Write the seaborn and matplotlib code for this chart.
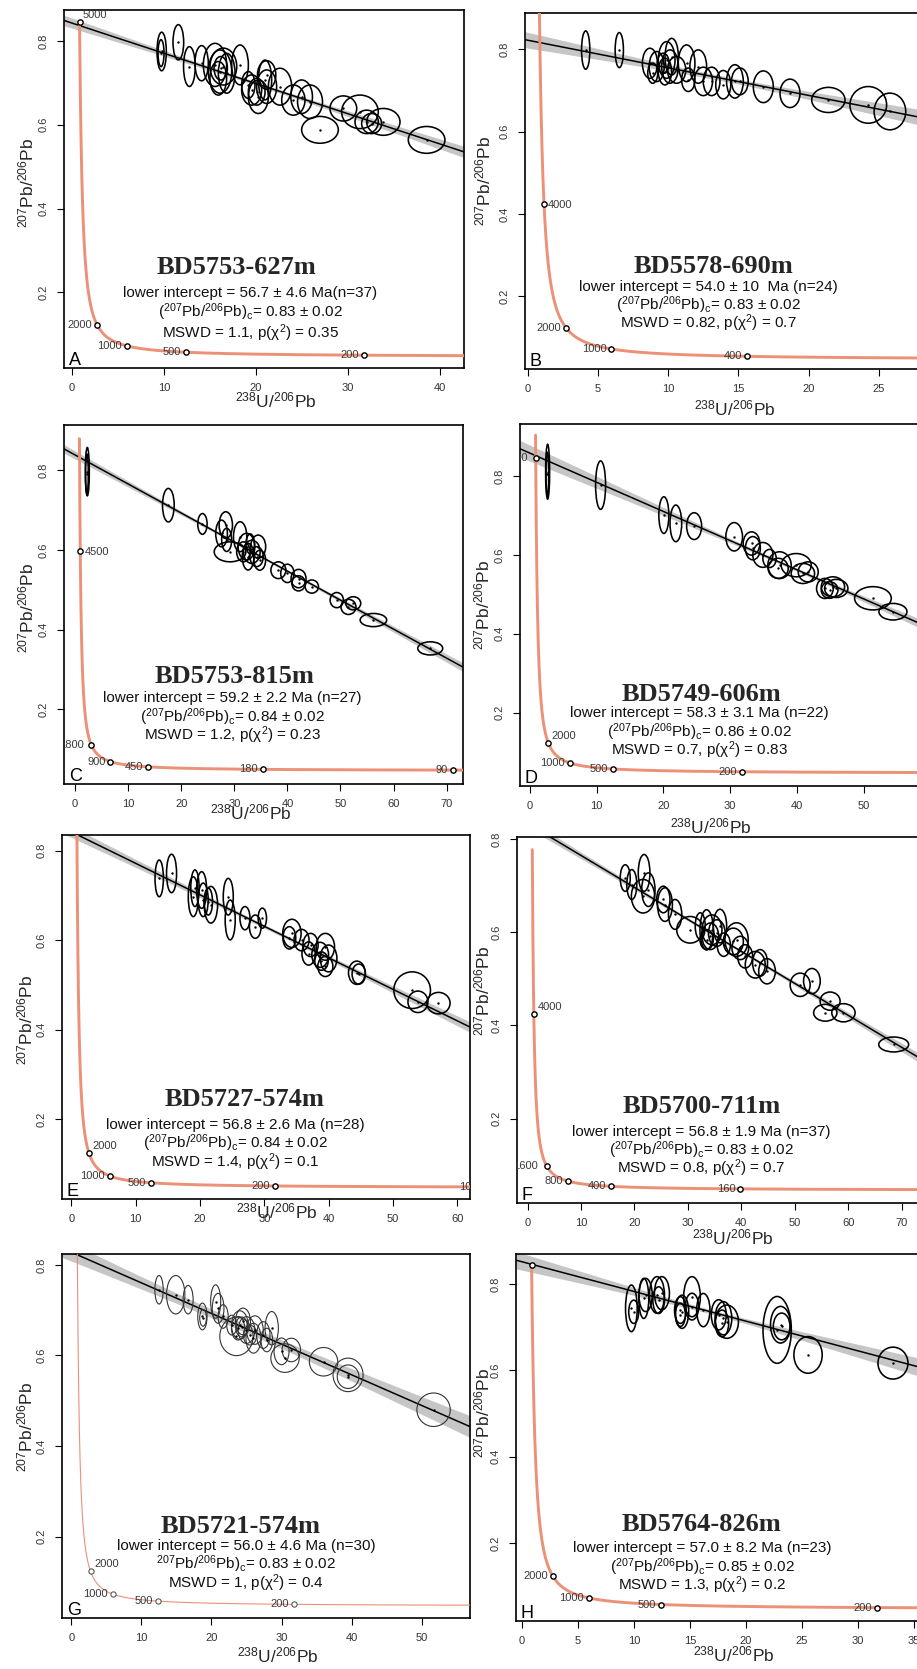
import numpy as np
import matplotlib
matplotlib.use("Agg")
import matplotlib.pyplot as plt
from matplotlib.patches import Ellipse
from matplotlib.transforms import ScaledTranslation
import seaborn as sns

# ---------------- data ----------------
PANEL_KEYS = ["A", "B", "C", "D", "E", "F", "G", "H"]

# ellipse centres (238U/206Pb, 207Pb/206Pb) and full widths / heights
A_x = [9.77, 9.70, 11.58, 12.78, 14.11, 15.56, 16.11, 16.47, 15.92, 16.83, 16.18, 18.28, 19.54, 20.09, 19.18,
       20.27, 21.17, 21.17, 20.99, 22.62, 24.07, 24.97, 25.88, 26.96, 29.50, 31.30, 32.03, 32.57, 33.84, 38.54]
A_y = [0.775, 0.771, 0.797, 0.739, 0.747, 0.743, 0.727, 0.739, 0.711, 0.723, 0.735, 0.743, 0.683, 0.679, 0.695,
       0.667, 0.719, 0.691, 0.707, 0.691, 0.659, 0.667, 0.655, 0.588, 0.639, 0.631, 0.607, 0.603, 0.607, 0.564]
A_w = [1.01, 0.65, 1.16, 1.27, 1.45, 2.53, 2.53, 2.90, 1.81, 1.81, 1.45, 1.81, 2.17, 1.81, 1.45,
       2.17, 1.99, 2.17, 1.45, 2.53, 2.53, 2.35, 2.71, 3.98, 2.90, 3.98, 2.53, 2.17, 3.62, 3.98]
A_h = [0.092, 0.064, 0.084, 0.095, 0.084, 0.103, 0.103, 0.088, 0.080, 0.095, 0.056, 0.095, 0.072, 0.064, 0.064,
       0.080, 0.068, 0.080, 0.095, 0.088, 0.072, 0.080, 0.080, 0.064, 0.060, 0.080, 0.056, 0.048, 0.064, 0.064]

B_x = [4.13, 6.52, 8.70, 9.18, 9.89, 10.13, 10.25, 9.77, 10.60, 11.31, 12.14, 12.50, 13.09, 13.92, 14.75,
       15.10, 16.77, 18.67, 21.40, 24.24, 25.78, 11.43, 9.65, 8.90]
B_y = [0.798, 0.798, 0.766, 0.758, 0.774, 0.758, 0.782, 0.746, 0.750, 0.766, 0.758, 0.722, 0.722, 0.714, 0.722,
       0.722, 0.709, 0.693, 0.677, 0.665, 0.649, 0.726, 0.766, 0.742]
B_w = [0.59, 0.59, 1.07, 1.07, 1.19, 1.19, 0.95, 0.95, 1.30, 1.19, 1.19, 1.30, 1.19, 1.07, 1.19,
       1.19, 1.42, 1.42, 2.37, 2.61, 2.25, 0.95, 0.83, 0.71]
B_h = [0.093, 0.085, 0.073, 0.073, 0.089, 0.081, 0.089, 0.065, 0.065, 0.089, 0.081, 0.069, 0.069, 0.069, 0.081,
       0.065, 0.077, 0.069, 0.061, 0.089, 0.089, 0.057, 0.049, 0.049]

C_x = [2.32, 2.25, 17.58, 24.00, 28.40, 27.60, 28.56, 29.20, 31.10, 32.30, 33.30, 31.70, 34.50, 34.20, 34.80,
       32.60, 38.30, 40.00, 42.10, 42.10, 44.60, 49.30, 51.50, 52.40, 56.20, 66.90, 33.00]
C_y = [0.796, 0.790, 0.712, 0.665, 0.662, 0.641, 0.625, 0.595, 0.633, 0.608, 0.595, 0.595, 0.608, 0.583, 0.574,
       0.583, 0.549, 0.541, 0.528, 0.516, 0.508, 0.474, 0.457, 0.466, 0.424, 0.353, 0.615]
C_w = [0.75, 0.50, 2.20, 1.76, 2.51, 2.20, 1.88, 5.96, 2.51, 3.14, 3.14, 2.51, 2.82, 2.51, 2.20,
       2.20, 2.82, 2.51, 2.82, 2.51, 2.51, 2.51, 2.82, 2.82, 5.00, 4.70, 1.57]
C_h = [0.121, 0.100, 0.084, 0.052, 0.067, 0.067, 0.058, 0.050, 0.075, 0.067, 0.058, 0.050, 0.058, 0.050, 0.050,
       0.067, 0.042, 0.046, 0.046, 0.038, 0.033, 0.038, 0.038, 0.033, 0.033, 0.033, 0.050]

D_x = [2.64, 2.60, 10.58, 20.06, 21.86, 24.60, 30.60, 33.20, 33.40, 34.90, 37.40, 37.20, 39.90, 40.90, 41.70,
       44.20, 45.40, 45.90, 44.90, 51.40, 54.40, 35.90]
D_y = [0.811, 0.805, 0.777, 0.701, 0.680, 0.673, 0.646, 0.629, 0.617, 0.600, 0.574, 0.566, 0.574, 0.553, 0.557,
       0.515, 0.519, 0.515, 0.511, 0.490, 0.456, 0.591]
D_w = [0.60, 0.40, 1.50, 1.50, 1.75, 2.25, 2.50, 2.50, 2.25, 3.00, 3.50, 3.00, 4.50, 3.50, 3.00,
       2.50, 3.50, 3.50, 2.50, 5.50, 4.20, 2.00]
D_h = [0.139, 0.110, 0.123, 0.093, 0.093, 0.068, 0.072, 0.059, 0.059, 0.063, 0.068, 0.051, 0.059, 0.051, 0.051,
       0.051, 0.051, 0.046, 0.042, 0.059, 0.042, 0.046]

E_x = [13.66, 15.58, 19.22, 18.96, 20.26, 20.50, 21.70, 21.30, 24.40, 24.70, 27.00, 28.60, 29.70, 34.30, 35.80,
       37.20, 36.90, 38.70, 39.50, 40.00, 39.50, 38.90, 44.40, 44.70, 53.00, 53.90, 57.10, 33.90]
E_y = [0.738, 0.749, 0.716, 0.697, 0.712, 0.690, 0.679, 0.686, 0.697, 0.645, 0.649, 0.630, 0.649, 0.615, 0.600,
       0.589, 0.570, 0.567, 0.585, 0.559, 0.541, 0.553, 0.527, 0.524, 0.488, 0.462, 0.459, 0.605]
E_w = [1.30, 1.56, 1.30, 1.56, 1.56, 1.56, 2.08, 1.30, 1.56, 1.56, 1.56, 1.82, 1.30, 2.86, 2.34,
       2.34, 2.08, 2.60, 2.86, 2.60, 2.34, 2.08, 2.60, 2.08, 5.70, 3.10, 3.60, 2.00]
E_h = [0.082, 0.086, 0.082, 0.089, 0.082, 0.075, 0.082, 0.060, 0.082, 0.089, 0.052, 0.052, 0.045, 0.063, 0.048,
       0.052, 0.052, 0.056, 0.060, 0.060, 0.045, 0.041, 0.052, 0.045, 0.082, 0.048, 0.048, 0.050]

F_x = [18.27, 19.50, 21.80, 21.60, 22.60, 25.40, 25.70, 27.60, 30.40, 33.50, 34.50, 34.20, 35.40, 33.50, 36.00,
       38.50, 39.10, 39.80, 40.70, 42.60, 43.50, 44.80, 51.00, 53.20, 56.60, 55.70, 59.10, 68.50, 32.30, 36.70]
F_y = [0.716, 0.702, 0.727, 0.677, 0.691, 0.670, 0.659, 0.638, 0.605, 0.605, 0.605, 0.591, 0.598, 0.584, 0.613,
       0.580, 0.584, 0.566, 0.548, 0.530, 0.534, 0.516, 0.487, 0.495, 0.452, 0.427, 0.427, 0.359, 0.613, 0.573]
F_w = [1.87, 1.87, 2.18, 4.36, 2.49, 2.49, 2.80, 2.49, 4.99, 2.49, 3.74, 3.12, 3.12, 2.49, 2.49,
       3.74, 4.36, 3.12, 2.80, 3.74, 2.80, 3.12, 3.74, 3.12, 3.74, 4.36, 4.36, 5.60, 1.87, 2.49]
F_h = [0.057, 0.064, 0.079, 0.072, 0.072, 0.057, 0.072, 0.064, 0.057, 0.086, 0.064, 0.057, 0.057, 0.043, 0.072,
       0.057, 0.072, 0.050, 0.050, 0.057, 0.057, 0.054, 0.050, 0.054, 0.039, 0.036, 0.039, 0.032, 0.057, 0.050]

G_x = [12.52, 14.90, 16.67, 18.71, 18.80, 20.60, 20.95, 21.67, 23.57, 24.05, 24.50, 23.80, 25.00, 26.20, 26.00,
       27.40, 28.60, 27.90, 30.50, 30.00, 31.40, 36.00, 39.50, 39.50, 51.70, 24.30, 22.90, 25.50]
G_y = [0.745, 0.734, 0.723, 0.686, 0.683, 0.719, 0.704, 0.686, 0.642, 0.667, 0.675, 0.660, 0.656, 0.656, 0.638,
       0.645, 0.660, 0.634, 0.594, 0.609, 0.612, 0.586, 0.557, 0.553, 0.480, 0.663, 0.667, 0.645]
G_w = [1.19, 2.62, 1.43, 1.33, 0.95, 1.43, 1.67, 1.43, 4.76, 2.38, 2.14, 1.90, 2.38, 2.38, 2.14,
       1.90, 1.90, 1.67, 4.05, 2.14, 2.62, 4.05, 4.29, 3.10, 4.76, 1.67, 1.43, 1.90]
G_h = [0.063, 0.085, 0.063, 0.059, 0.037, 0.074, 0.066, 0.052, 0.085, 0.063, 0.059, 0.052, 0.059, 0.063, 0.066,
       0.059, 0.074, 0.052, 0.063, 0.059, 0.052, 0.063, 0.074, 0.052, 0.074, 0.044, 0.044, 0.044]

H_x = [9.77, 11.04, 10.88, 12.06, 12.50, 12.21, 14.15, 14.30, 15.19, 15.19, 16.20, 17.58, 18.00, 18.30, 17.87,
       22.80, 23.10, 23.20, 25.56, 33.15, 9.98, 14.15]
H_y = [0.744, 0.775, 0.767, 0.775, 0.779, 0.763, 0.740, 0.736, 0.771, 0.748, 0.740, 0.729, 0.721, 0.713, 0.709,
       0.694, 0.706, 0.702, 0.636, 0.617, 0.736, 0.729]
H_w = [1.04, 1.19, 0.89, 1.34, 1.34, 1.04, 1.04, 1.19, 1.49, 1.19, 1.19, 1.34, 1.49, 2.08, 1.19,
       2.53, 1.79, 1.49, 2.53, 2.68, 0.89, 0.89]
H_h = [0.108, 0.077, 0.093, 0.085, 0.077, 0.062, 0.062, 0.077, 0.093, 0.062, 0.077, 0.070, 0.077, 0.077, 0.062,
       0.155, 0.085, 0.062, 0.085, 0.074, 0.054, 0.054]

# discordia: 207Pb/206Pb intercept at x=0 and slope
DISC_Y0 = [0.843, 0.822, 0.838, 0.858, 0.842, 0.833, 0.828, 0.852]
DISC_SLOPE = [-0.00722, -0.0067, -0.00728, -0.00739, -0.00704, -0.00686, -0.00677, -0.00688]

# concordia age markers (Ma) and their labels
AGES = {
    "A": [5000, 2000, 1000, 500, 200],
    "B": [4000, 2000, 1000, 400],
    "C": [4500, 1800, 900, 450, 180, 90],
    "D": [5000, 2000, 1000, 500, 200],
    "E": [2000, 1000, 500, 200, 100],
    "F": [4000, 1600, 800, 400, 160],
    "G": [2000, 1000, 500, 200],
    "H": [5000, 2000, 1000, 500, 200],
}
AGE_LABELS = {
    "A": ["5000", "2000", "1000", "500", "200"],
    "B": ["4000", "2000", "1000", "400"],
    "C": ["4500", "1800", "900", "450", "180", "90"],
    "D": ["5000", "2000", "1000", "500", "200"],
    "E": ["2000", "1000", "500", "200", "100"],
    "F": ["4000", "1600", "800", "400", "160"],
    "G": ["2000", "1000", "500", "200"],
    "H": ["", "2000", "1000", "500", "200"],
}

TITLES = ["BD5753-627m", "BD5578-690m", "BD5753-815m", "BD5749-606m",
          "BD5727-574m", "BD5700-711m", "BD5721-574m", "BD5764-826m"]
STAT_LINE1 = ["lower intercept = 56.7 ± 4.6 Ma(n=37)",
              "lower intercept = 54.0 ± 10  Ma (n=24)",
              "lower intercept = 59.2 ± 2.2 Ma (n=27)",
              "lower intercept = 58.3 ± 3.1 Ma (n=22)",
              "lower intercept = 56.8 ± 2.6 Ma (n=28)",
              "lower intercept = 56.8 ± 1.9 Ma (n=37)",
              "lower intercept = 56.0 ± 4.6 Ma (n=30)",
              "lower intercept = 57.0 ± 8.2 Ma (n=23)"]
PBC = ["0.83 ± 0.02", "0.83 ± 0.02", "0.84 ± 0.02", "0.86 ± 0.02",
       "0.84 ± 0.02", "0.83 ± 0.02", "0.83 ± 0.02", "0.85 ± 0.02"]
MSWD = ["1.1", "0.82", "1.2", "0.7", "1.4", "0.8", "1", "1.3"]
PCHI = ["0.35", "0.7", "0.23", "0.83", "0.1", "0.7", "0.4", "0.2"]

ELL = {"A": (A_x, A_y, A_w, A_h), "B": (B_x, B_y, B_w, B_h), "C": (C_x, C_y, C_w, C_h),
       "D": (D_x, D_y, D_w, D_h), "E": (E_x, E_y, E_w, E_h), "F": (F_x, F_y, F_w, F_h),
       "G": (G_x, G_y, G_w, G_h), "H": (H_x, H_y, H_w, H_h)}

# ---------------- layout / style ----------------
W, H = 917, 1669
L238, L235, U85 = 1.55125e-10, 9.8485e-10, 137.88


def tera_wasserburg(t_ma):
    t = np.asarray(t_ma, dtype=float) * 1e6
    e8 = np.exp(L238 * t) - 1.0
    e5 = np.exp(L235 * t) - 1.0
    return 1.0 / e8, e5 / e8 / U85


# box: (left, top, right, bottom) in px
LAYOUT = {
    "A": dict(box=(64, 10, 464, 368), xlim=(-0.836, 42.6), ylim=(0.0196, 0.874), xstep=10,
              tmax=5000, band=(0.004, 20, 0.00057), pos=["ur", "l", "l", "l", "l"],
              title=(236, 267), stats=(250, [293, 312, 333]), xlab=(276, 400), ylab=(26.7, 183)),
    "B": dict(box=(525, 13, 945, 369), xlim=(-0.19, 29.7), ylim=(0.024, 0.888), xstep=5,
              tmax=6000, band=(0.006, 14, 0.0013), pos=["r", "l", "l", "l"],
              title=(713, 266), stats=(708, [287, 305, 323]), xlab=(735, 408), ylab=(483, 181)),
    "C": dict(box=(64, 425, 463, 784), xlim=(-2.07, 73.07), ylim=(0.013, 0.913), xstep=10,
              tmax=5055, band=(0.003, 35, 0.00028), pos=["r", "L", "l", "l", "l", "l"],
              title=(235, 676), stats=(232, [698, 717, 735]), xlab=(251, 812), ylab=(26.7, 608)),
    "D": dict(box=(520, 424, 945, 786), xlim=(-1.5, 62.2), ylim=(0.014, 0.932), xstep=10,
              tmax=5095, band=(0.004, 38, 0.00053), pos=["L", "ur", "l", "l", "l"],
              title=(702, 694), stats=(699, [713, 732, 750]), xlab=(711, 826), ylab=(482, 605)),
    "E": dict(box=(62, 835, 470, 1199), xlim=(-1.46, 62.0), ylim=(0.021, 0.835), xstep=10,
              tmax=5200, band=(0.004, 32, 0.00037), pos=["ur", "l", "l", "l", "l"],
              title=(245, 1099), stats=(235, [1125, 1143, 1162]), xlab=(277, 1211), ylab=(25, 1020)),
    "F": dict(box=(517, 837, 945, 1203), xlim=(-1.98, 78.1), ylim=(0.019, 0.804), xstep=10,
              tmax=4880, band=(0.003, 36, 0.00025), pos=["ur", "LL", "l", "l", "l"],
              title=(702, 1106), stats=(701, [1132, 1150, 1168]), xlab=(733, 1237), ylab=(482, 991)),
    "G": dict(box=(62, 1254, 470, 1618), xlim=(-1.33, 56.9), ylim=(0.020, 0.824), xstep=10,
              tmax=5200, band=(0.009, 25, 0.0007), pos=["ur", "l", "l", "l"],
              title=(241, 1526), stats=(246, [1546, 1564, 1583]), xlab=(278, 1655), ylab=(25, 1427)),
    "H": dict(box=(516, 1254, 945, 1621), xlim=(-0.54, 37.8), ylim=(0.019, 0.870), xstep=5,
              tmax=5000, band=(0.005, 17, 0.0011), pos=["l", "l", "l", "l", "l"],
              title=(702, 1524), stats=(702, [1548, 1567, 1585]), xlab=(734, 1654), ylab=(482, 1413)),
}

OFFS = {"l": (-3.6, 0.0, "right"), "L": (-5.3, 0.0, "right"), "LL": (-6.0, 0.0, "right"),
        "ur": (2.5, 5.0, "left"), "r": (3.0, -0.7, "left")}
CONC_COLOR = "#EA9178"

sns.set_theme(style="ticks")
plt.rcParams["font.family"] = ["Liberation Sans", "DejaVu Sans"]
plt.rcParams["mathtext.fontset"] = "custom"
plt.rcParams["mathtext.rm"] = "Liberation Sans"
plt.rcParams["mathtext.it"] = "Liberation Sans:italic"
plt.rcParams["mathtext.bf"] = "Liberation Sans:bold"

fig = plt.figure(figsize=(W / 100, H / 100), dpi=100)
fig.patch.set_facecolor("white")


def fx(px):
    return px / W


def fy(py):
    return 1.0 - py / H


for i, key in enumerate(PANEL_KEYS):
    P = LAYOUT[key]
    l, t, r, b = P["box"]
    ax = fig.add_axes([fx(l), fy(b), (r - l) / W, (b - t) / H])
    ax.set_facecolor("white")
    thin = key == "G"

    # discordia with confidence band
    xs = np.linspace(P["xlim"][0], P["xlim"][1], 300)
    yl = DISC_Y0[i] + DISC_SLOPE[i] * xs
    h0, xc, k = P["band"]
    hw = np.sqrt(h0 ** 2 + (k * (xs - xc)) ** 2)
    ax.fill_between(xs, yl - hw, yl + hw, color="#c6c6c6", lw=0, zorder=1)
    sns.lineplot(x=xs, y=yl, ax=ax, color="black", lw=1.1, estimator=None, sort=False, zorder=2)

    # ellipses
    ex, ey, ew, eh = ELL[key]
    for cx, cy, w, h in zip(ex, ey, ew, eh):
        ax.add_patch(Ellipse((cx, cy), w, h, fill=False, ec="#333333" if thin else "black",
                             lw=0.8 if thin else 1.15, zorder=3))
    sns.scatterplot(x=ex, y=ey, ax=ax, s=3, color="black", linewidth=0, zorder=4)

    # concordia
    ts = np.geomspace(15, P["tmax"], 800)
    cxs, cys = tera_wasserburg(ts)
    sns.lineplot(x=cxs, y=cys, ax=ax, color=CONC_COLOR, lw=0.8 if thin else 2.1,
                 estimator=None, sort=False, zorder=5)
    mx, my = tera_wasserburg(AGES[key])
    ax.plot(mx, my, "o", ms=3.8, mfc="white", mec="#444444" if thin else "black",
            mew=0.7 if thin else 1.0, zorder=6)
    for xx, yy, lab, p in zip(mx, my, AGE_LABELS[key], P["pos"]):
        dx, dy, ha = OFFS[p]
        ax.text(xx, yy, lab, fontsize=8, color="#3a3a3a", ha=ha, va="center",
                transform=ax.transData + ScaledTranslation(dx / 72, dy / 72, fig.dpi_scale_trans),
                clip_on=True, zorder=7)

    # axes styling
    ax.set_xlim(*P["xlim"])
    ax.set_ylim(*P["ylim"])
    x0, x1 = P["xlim"]
    cand = np.arange(0, x1 + 0.01, P["xstep"])
    tick_px = l + (cand - x0) / (x1 - x0) * (r - l)
    xt = cand[tick_px < W]
    ax.set_xticks(xt)
    ax.set_xticklabels([f"{v:g}" for v in xt])
    ax.set_yticks([0.2, 0.4, 0.6, 0.8])
    ax.set_yticklabels(["0.2", "0.4", "0.6", "0.8"])
    ax.tick_params(direction="out", length=5, width=0.8, pad=6, labelsize=8,
                   labelcolor="#333333", color="black")
    ax.tick_params(axis="y", labelrotation=90)
    for lab in ax.get_yticklabels():
        lab.set_va("center")
    for sp in ax.spines.values():
        sp.set_visible(True)
        sp.set_linewidth(1.2)
        sp.set_color("black")
    ax.set_xlabel("")
    ax.set_ylabel("")
    ax.grid(False)

    # panel letter
    ax.text(0, 0, key, transform=ax.transAxes + ScaledTranslation(3.5 / 72, 2.0 / 72, fig.dpi_scale_trans),
            fontsize=13, ha="left", va="baseline", color="black", zorder=8)

    # axis labels
    fig.text(fx(P["xlab"][0]), fy(P["xlab"][1]), r"$^{238}$U/$^{206}$Pb", fontsize=12.5,
             ha="center", va="center")
    fig.text(fx(P["ylab"][0]), fy(P["ylab"][1]), r"$^{207}$Pb/$^{206}$Pb", fontsize=12.5,
             ha="center", va="center", rotation=90)

    # title and statistics
    fig.text(fx(P["title"][0]), fy(P["title"][1]), TITLES[i], fontsize=19, fontweight="bold",
             family=["Liberation Serif", "DejaVu Serif"], ha="center", va="center")
    sx, sys_ = P["stats"]
    line2 = (r"$^{207}$Pb/$^{206}$Pb)$_\mathrm{c}$= " if key == "G"
             else r"($^{207}$Pb/$^{206}$Pb)$_\mathrm{c}$= ") + PBC[i]
    line3 = "MSWD = " + MSWD[i] + ", p(χ$^{2}$) = " + PCHI[i]
    for txt, yy in zip([STAT_LINE1[i], line2, line3], sys_):
        fig.text(fx(sx), fy(yy), txt, fontsize=11, ha="center", va="center", color="#111111")

fig.savefig("out.png", dpi=100, facecolor="white")
